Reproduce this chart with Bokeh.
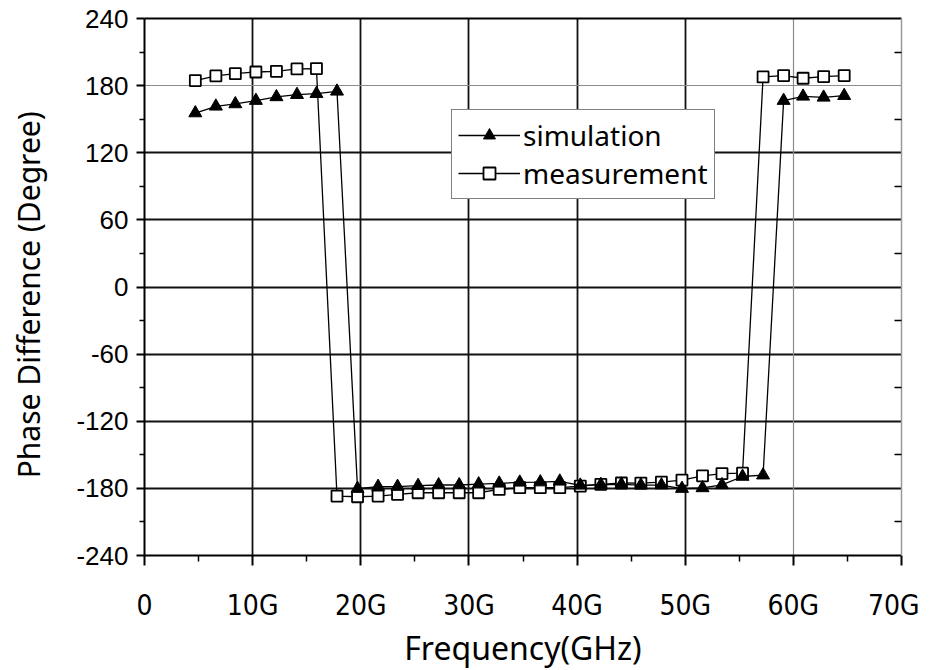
from bokeh.plotting import figure
from bokeh.models import FixedTicker, Legend, LegendItem, LinearAxis, Range1d, Grid
from bokeh.embed import file_html
from bokeh.resources import INLINE

# Frequency points (GHz)
freq = [4.7, 6.6, 8.4, 10.3, 12.2, 14.1, 15.9, 17.8, 19.7, 21.6, 23.4, 25.3, 27.2,
        29.1, 30.9, 32.8, 34.7, 36.6, 38.4, 40.3, 42.2, 44.1, 45.9, 47.8, 49.7,
        51.6, 53.4, 55.3, 57.2, 59.1, 60.9, 62.8, 64.7]

# Phase difference (degree)
simulation = [155.5, 161.5, 163.6, 166.6, 169.9, 171.9, 172.8, 174.9,
              -180.2, -178.4, -178.4, -177.6, -177.0, -177.0, -176.2, -175.5,
              -174.6, -174.4, -173.7, -177.3, -176.7, -176.4, -177.1, -177.1,
              -180.2, -179.6, -176.9, -169.4, -168.2,
              166.6, 170.4, 169.5, 171.0]

measurement = [184.5, 188.7, 190.7, 192.2, 192.8, 194.9, 195.2,
               -186.9, -187.5, -186.9, -185.4, -183.9, -183.9, -183.9, -183.9,
               -180.9, -179.4, -179.4, -179.4, -177.9, -176.4, -175.2, -175.3,
               -174.4, -172.6, -168.8, -166.8, -166.4,
               187.8, 189.0, 186.6, 188.1, 189.0]

x_ticks = [0, 10, 20, 30, 40, 50, 60, 70]
x_tick_labels = ["0", "10G", "20G", "30G", "40G", "50G", "60G", "70G"]
x_minor = [5, 15, 25, 35, 45, 55, 65]
y_ticks = [-240, -180, -120, -60, 0, 60, 120, 180, 240]
y_tick_labels = ["-240", "-180", "-120", "-60", "0", "60", "120", "180", "240"]
y_minor = [-210, -150, -90, -30, 30, 90, 150, 210]
# grid lines that the original draws in light grey
x_light = [60]
y_light = [180]

TICK_FONT = "Liberation Sans"
X_TICK_FONT = "'Liberation Sans Narrow', 'DejaVu Sans Condensed', 'Liberation Sans'"
TITLE_FONT = "Noto Sans"

p = figure(frame_width=757, frame_height=537,
           output_backend="svg", toolbar_location=None,
           x_range=Range1d(0, 70), y_range=Range1d(-240, 240),
           min_border_left=144, min_border_right=18, min_border_top=18,
           min_border_bottom=100)
p.background_fill_color = "white"
p.border_fill_color = "white"
p.outline_line_color = None

# Axes
p.xaxis.ticker = FixedTicker(ticks=x_ticks, minor_ticks=x_minor)
p.xaxis.major_label_overrides = {t: l for t, l in zip(x_ticks, x_tick_labels)}
p.yaxis.ticker = FixedTicker(ticks=y_ticks, minor_ticks=y_minor)
p.yaxis.major_label_overrides = {t: l for t, l in zip(y_ticks, y_tick_labels)}

for ax in (p.xaxis[0], p.yaxis[0]):
    ax.axis_line_color = "black"
    ax.axis_line_width = 2
    ax.major_tick_line_color = "black"
    ax.major_tick_line_width = 2
    ax.minor_tick_line_color = "black"
    ax.minor_tick_line_width = 1.5
    ax.major_tick_in = 0
    ax.minor_tick_in = 0
    ax.major_label_text_color = "black"
    ax.axis_label_text_color = "black"
    ax.axis_label_text_font_style = "normal"
    ax.axis_label_text_font = TITLE_FONT

p.xaxis.major_tick_out = 10
p.xaxis.minor_tick_out = 6
p.yaxis.major_tick_out = 8
p.yaxis.minor_tick_out = 5

p.xaxis.major_label_text_font = X_TICK_FONT
p.xaxis.major_label_text_font_size = "28px"
p.xaxis.major_label_standoff = 23
p.yaxis.major_label_text_font = TICK_FONT
p.yaxis.major_label_text_font_size = "26px"
p.yaxis.major_label_standoff = 8

p.xaxis.axis_label = "Frequency(GHz)"
p.xaxis.axis_label_text_font_size = "32px"
p.xaxis.axis_label_standoff = 1
p.yaxis.axis_label = "Phase  Difference  (Degree)"
p.yaxis.axis_label_text_font_size = "30px"
p.yaxis.axis_label_standoff = 24

# Top and right borders
top = LinearAxis(ticker=FixedTicker(ticks=[]), axis_line_color="black", axis_line_width=2,
                 major_tick_line_color=None, minor_tick_line_color=None)
p.add_layout(top, "above")
right = LinearAxis(ticker=FixedTicker(ticks=[], minor_ticks=y_minor),
                   axis_line_color="#9a9a9a", axis_line_width=1.5,
                   major_tick_line_color=None, minor_tick_line_color="black",
                   minor_tick_line_width=1.5, minor_tick_in=7, minor_tick_out=0)
p.add_layout(right, "right")

# Grid
p.xgrid.ticker = FixedTicker(ticks=[t for t in x_ticks if t not in x_light])
p.ygrid.ticker = FixedTicker(ticks=[t for t in y_ticks if t not in y_light])
p.grid.grid_line_color = "#111111"
p.grid.grid_line_width = 1.8
p.grid.grid_line_alpha = 1.0
p.add_layout(Grid(dimension=0, ticker=FixedTicker(ticks=x_light),
                  grid_line_color="#8c8c8c", grid_line_width=1.2))
p.add_layout(Grid(dimension=1, ticker=FixedTicker(ticks=y_light),
                  grid_line_color="#8c8c8c", grid_line_width=1.2))

# Series (measurement first so the triangles sit on top)
m_line = p.line(freq, measurement, line_color="black", line_width=1.3)
m_mark = p.scatter(freq, measurement, marker="square", size=11,
                   fill_color="white", line_color="black", line_width=1.8)
s_line = p.line(freq, simulation, line_color="black", line_width=1.3)
s_mark = p.scatter(freq, simulation, marker="triangle", size=13,
                   fill_color="black", line_color="black", line_width=1)

legend = Legend(items=[LegendItem(label="simulation", renderers=[s_line, s_mark]),
                       LegendItem(label="measurement", renderers=[m_line, m_mark])],
                location=(307, 356))
legend.label_text_font = TITLE_FONT
legend.label_text_font_size = "28px"
legend.label_text_color = "black"
legend.glyph_width = 62
legend.glyph_height = 30
legend.label_height = 30
legend.label_standoff = 3
legend.spacing = 0
legend.padding = 6
legend.margin = 0
legend.border_line_color = "black"
legend.border_line_width = 1.2
legend.background_fill_color = "white"
legend.background_fill_alpha = 1.0
p.add_layout(legend)

open("out.html", "w").write(file_html(p, INLINE))
